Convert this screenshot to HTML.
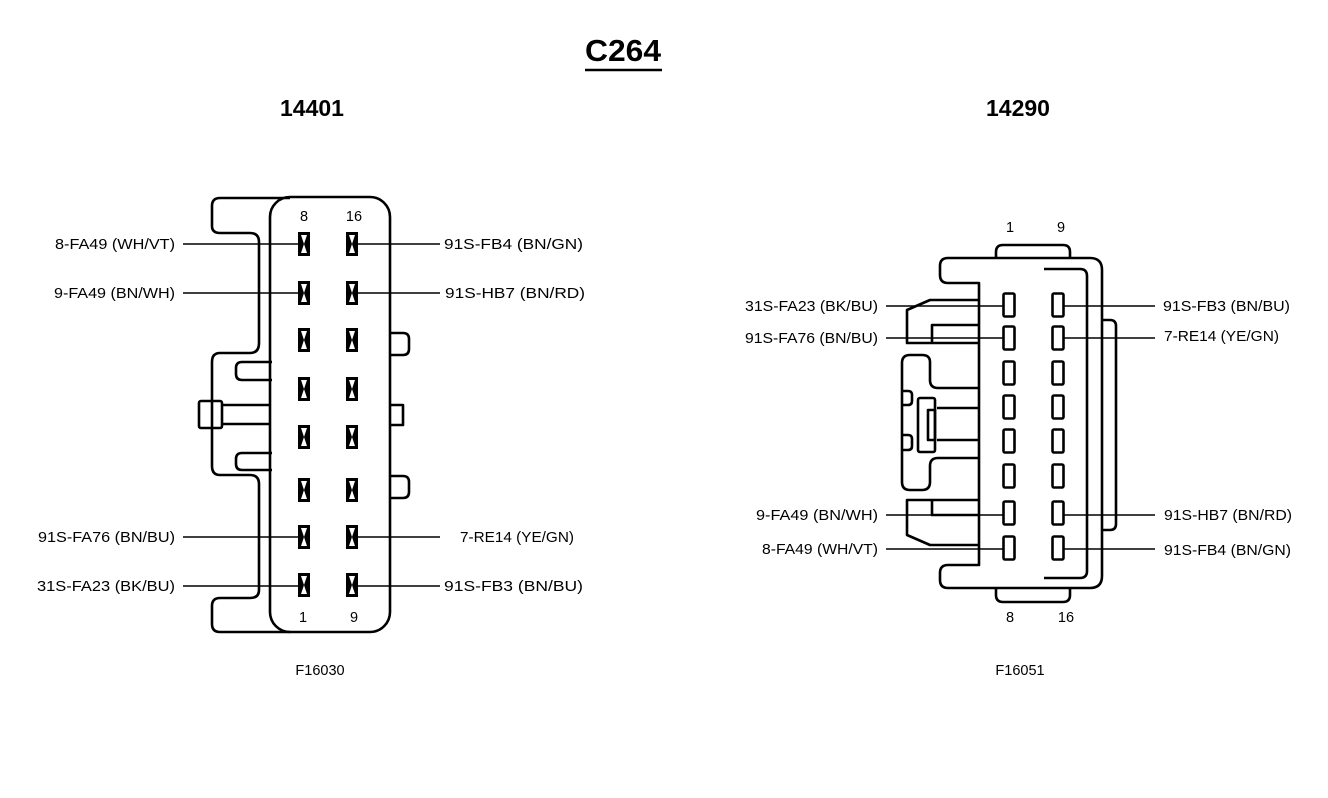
<!DOCTYPE html>
<html><head><meta charset="utf-8"><style>
html,body{margin:0;padding:0;background:#fff;}
svg{display:block;}
text{font-family:"Liberation Sans",Arial,sans-serif;fill:#000;}
</style></head><body>
<svg width="1328" height="798" viewBox="0 0 1328 798" xmlns="http://www.w3.org/2000/svg">
<defs>
<g id="lp"><rect x="-6" y="-12" width="12" height="24" fill="#000"/><path d="M-3,-9 L3,-9 L0,0 L3,9 L-3,9 L0,0 Z" fill="#fff"/></g>
<g id="rp"><rect x="-5.5" y="-11.5" width="11" height="23" rx="1.5" fill="#fff" stroke="#000" stroke-width="2.6"/></g>
</defs>
<text x="585" y="61" font-size="31" font-weight="bold" textLength="76" lengthAdjust="spacingAndGlyphs">C264</text>
<line x1="585" y1="70" x2="662" y2="70" stroke="#000" stroke-width="2.5"/>
<text x="312" y="116" font-size="23" font-weight="bold" text-anchor="middle">14401</text>
<text x="1018" y="116" font-size="23" font-weight="bold" text-anchor="middle">14290</text>

<g fill="none" stroke="#000" stroke-width="2.6" stroke-linejoin="round">
<path d="M290,198 L220,198 Q212,198 212,206 L212,226 Q212,233 220,233 L250,233 Q259,233 259,242 L259,343 Q259,353 250,353 L220,353 Q212,353 212,362 L212,466 Q212,475 220,475 L250,475 Q259,475 259,484 L259,590 Q259,598 250,598 L220,598 Q212,598 212,606 L212,624 Q212,632 220,632 L290,632"/>
<rect x="270" y="197" width="120" height="435" rx="20"/>
<path d="M272,362 L242,362 Q236,362 236,368 L236,374 Q236,380 242,380 L272,380"/>
<path d="M272,453 L242,453 Q236,453 236,459 L236,464 Q236,470 242,470 L272,470"/>
<rect x="199" y="401" width="23" height="27" rx="2"/>
<line x1="222" y1="405" x2="271" y2="405"/>
<line x1="222" y1="424" x2="271" y2="424"/>
<path d="M390,333 L403,333 Q409,333 409,339 L409,349 Q409,355 403,355 L390,355"/>
<path d="M390,405 L403,405 L403,425 L390,425"/>
<path d="M390,476 L403,476 Q409,476 409,482 L409,492 Q409,498 403,498 L390,498"/>
</g>
<g stroke="#000" stroke-width="1.6">
<line x1="183" y1="244" x2="300" y2="244"/><line x1="183" y1="293" x2="300" y2="293"/>
<line x1="183" y1="537" x2="300" y2="537"/><line x1="183" y1="586" x2="300" y2="586"/>
<line x1="358" y1="244" x2="440" y2="244"/><line x1="358" y1="293" x2="440" y2="293"/>
<line x1="358" y1="537" x2="440" y2="537"/><line x1="358" y1="586" x2="440" y2="586"/>
</g>
<g>
<use href="#lp" x="304" y="244"/><use href="#lp" x="352" y="244"/>
<use href="#lp" x="304" y="293"/><use href="#lp" x="352" y="293"/>
<use href="#lp" x="304" y="340"/><use href="#lp" x="352" y="340"/>
<use href="#lp" x="304" y="389"/><use href="#lp" x="352" y="389"/>
<use href="#lp" x="304" y="437"/><use href="#lp" x="352" y="437"/>
<use href="#lp" x="304" y="490"/><use href="#lp" x="352" y="490"/>
<use href="#lp" x="304" y="537"/><use href="#lp" x="352" y="537"/>
<use href="#lp" x="304" y="585"/><use href="#lp" x="352" y="585"/>
</g>
<g font-size="14.5">
<text x="304" y="221" text-anchor="middle">8</text><text x="354" y="221" text-anchor="middle">16</text>
<text x="303" y="622" text-anchor="middle">1</text><text x="354" y="622" text-anchor="middle">9</text>
<text x="55" y="249" textLength="120" lengthAdjust="spacingAndGlyphs">8-FA49 (WH/VT)</text>
<text x="54" y="298" textLength="121" lengthAdjust="spacingAndGlyphs">9-FA49 (BN/WH)</text>
<text x="38" y="542" textLength="137" lengthAdjust="spacingAndGlyphs">91S-FA76 (BN/BU)</text>
<text x="37" y="591" textLength="138" lengthAdjust="spacingAndGlyphs">31S-FA23 (BK/BU)</text>
<text x="444" y="249" textLength="139" lengthAdjust="spacingAndGlyphs">91S-FB4 (BN/GN)</text>
<text x="445" y="298" textLength="140" lengthAdjust="spacingAndGlyphs">91S-HB7 (BN/RD)</text>
<text x="460" y="542" textLength="114" lengthAdjust="spacingAndGlyphs">7-RE14 (YE/GN)</text>
<text x="444" y="591" textLength="139" lengthAdjust="spacingAndGlyphs">91S-FB3 (BN/BU)</text>
<text x="320" y="675" text-anchor="middle">F16030</text>
</g>

<g fill="none" stroke="#000" stroke-width="2.6" stroke-linejoin="round">
<path d="M996,258 L996,252 Q996,245 1003,245 L1063,245 Q1070,245 1070,252 L1070,258"/>
<path d="M996,588 L996,595 Q996,602 1003,602 L1063,602 Q1070,602 1070,595 L1070,588"/>
<path d="M979,283 L948,283 Q940,283 940,275 L940,266 Q940,258 948,258 L1090,258 Q1102,258 1102,270 L1102,576 Q1102,588 1090,588 L948,588 Q940,588 940,580 L940,573 Q940,565 948,565 L979,565 Z"/>
<path d="M1044,269 L1080,269 Q1087,269 1087,276 L1087,571 Q1087,578 1080,578 L1044,578"/>
<path d="M1102,320 L1110,320 Q1116,320 1116,326 L1116,524 Q1116,530 1110,530 L1102,530"/>
<path d="M979,300 L930,300 L907,310 L907,343 L979,343"/>
<path d="M979,325 L932,325 L932,343"/>
<path d="M979,545 L930,545 L907,535 L907,500 L979,500"/>
<path d="M979,515 L932,515 L932,500"/>
<path d="M979,388 L938,388 Q930,388 930,380 L930,362 Q930,355 922,355 L910,355 Q902,355 902,363 L902,482 Q902,490 910,490 L922,490 Q930,490 930,482 L930,466 Q930,458 938,458 L979,458"/>
<rect x="918" y="398" width="17" height="54" rx="2"/>
<rect x="928" y="410" width="7" height="30"/>
<line x1="937" y1="408" x2="979" y2="408"/>
<line x1="937" y1="440" x2="979" y2="440"/>
<path d="M902,391 L908,391 Q912,391 912,395 L912,401 Q912,405 908,405 L902,405"/>
<path d="M902,435 L908,435 Q912,435 912,439 L912,446 Q912,450 908,450 L902,450"/>
</g>
<g stroke="#000" stroke-width="1.6">
<line x1="886" y1="306" x2="1003" y2="306"/><line x1="886" y1="338" x2="1003" y2="338"/>
<line x1="886" y1="515" x2="1003" y2="515"/><line x1="886" y1="549" x2="1003" y2="549"/>
<line x1="1064" y1="306" x2="1155" y2="306"/><line x1="1064" y1="338" x2="1155" y2="338"/>
<line x1="1064" y1="515" x2="1155" y2="515"/><line x1="1064" y1="549" x2="1155" y2="549"/>
</g>
<g>
<use href="#rp" x="1009" y="305"/><use href="#rp" x="1058" y="305"/>
<use href="#rp" x="1009" y="338"/><use href="#rp" x="1058" y="338"/>
<use href="#rp" x="1009" y="373"/><use href="#rp" x="1058" y="373"/>
<use href="#rp" x="1009" y="407"/><use href="#rp" x="1058" y="407"/>
<use href="#rp" x="1009" y="441"/><use href="#rp" x="1058" y="441"/>
<use href="#rp" x="1009" y="476"/><use href="#rp" x="1058" y="476"/>
<use href="#rp" x="1009" y="513"/><use href="#rp" x="1058" y="513"/>
<use href="#rp" x="1009" y="548"/><use href="#rp" x="1058" y="548"/>
</g>
<g font-size="14.5">
<text x="1010" y="232" text-anchor="middle">1</text><text x="1061" y="232" text-anchor="middle">9</text>
<text x="1010" y="622" text-anchor="middle">8</text><text x="1066" y="622" text-anchor="middle">16</text>
<text x="745" y="311" textLength="133" lengthAdjust="spacingAndGlyphs">31S-FA23 (BK/BU)</text>
<text x="745" y="343" textLength="133" lengthAdjust="spacingAndGlyphs">91S-FA76 (BN/BU)</text>
<text x="756" y="520" textLength="122" lengthAdjust="spacingAndGlyphs">9-FA49  (BN/WH)</text>
<text x="762" y="554" textLength="116" lengthAdjust="spacingAndGlyphs">8-FA49 (WH/VT)</text>
<text x="1163" y="311" textLength="127" lengthAdjust="spacingAndGlyphs">91S-FB3 (BN/BU)</text>
<text x="1164" y="341" textLength="115" lengthAdjust="spacingAndGlyphs">7-RE14 (YE/GN)</text>
<text x="1164" y="520" textLength="128" lengthAdjust="spacingAndGlyphs">91S-HB7 (BN/RD)</text>
<text x="1164" y="555" textLength="127" lengthAdjust="spacingAndGlyphs">91S-FB4 (BN/GN)</text>
<text x="1020" y="675" text-anchor="middle">F16051</text>
</g>
</svg>
</body></html>
